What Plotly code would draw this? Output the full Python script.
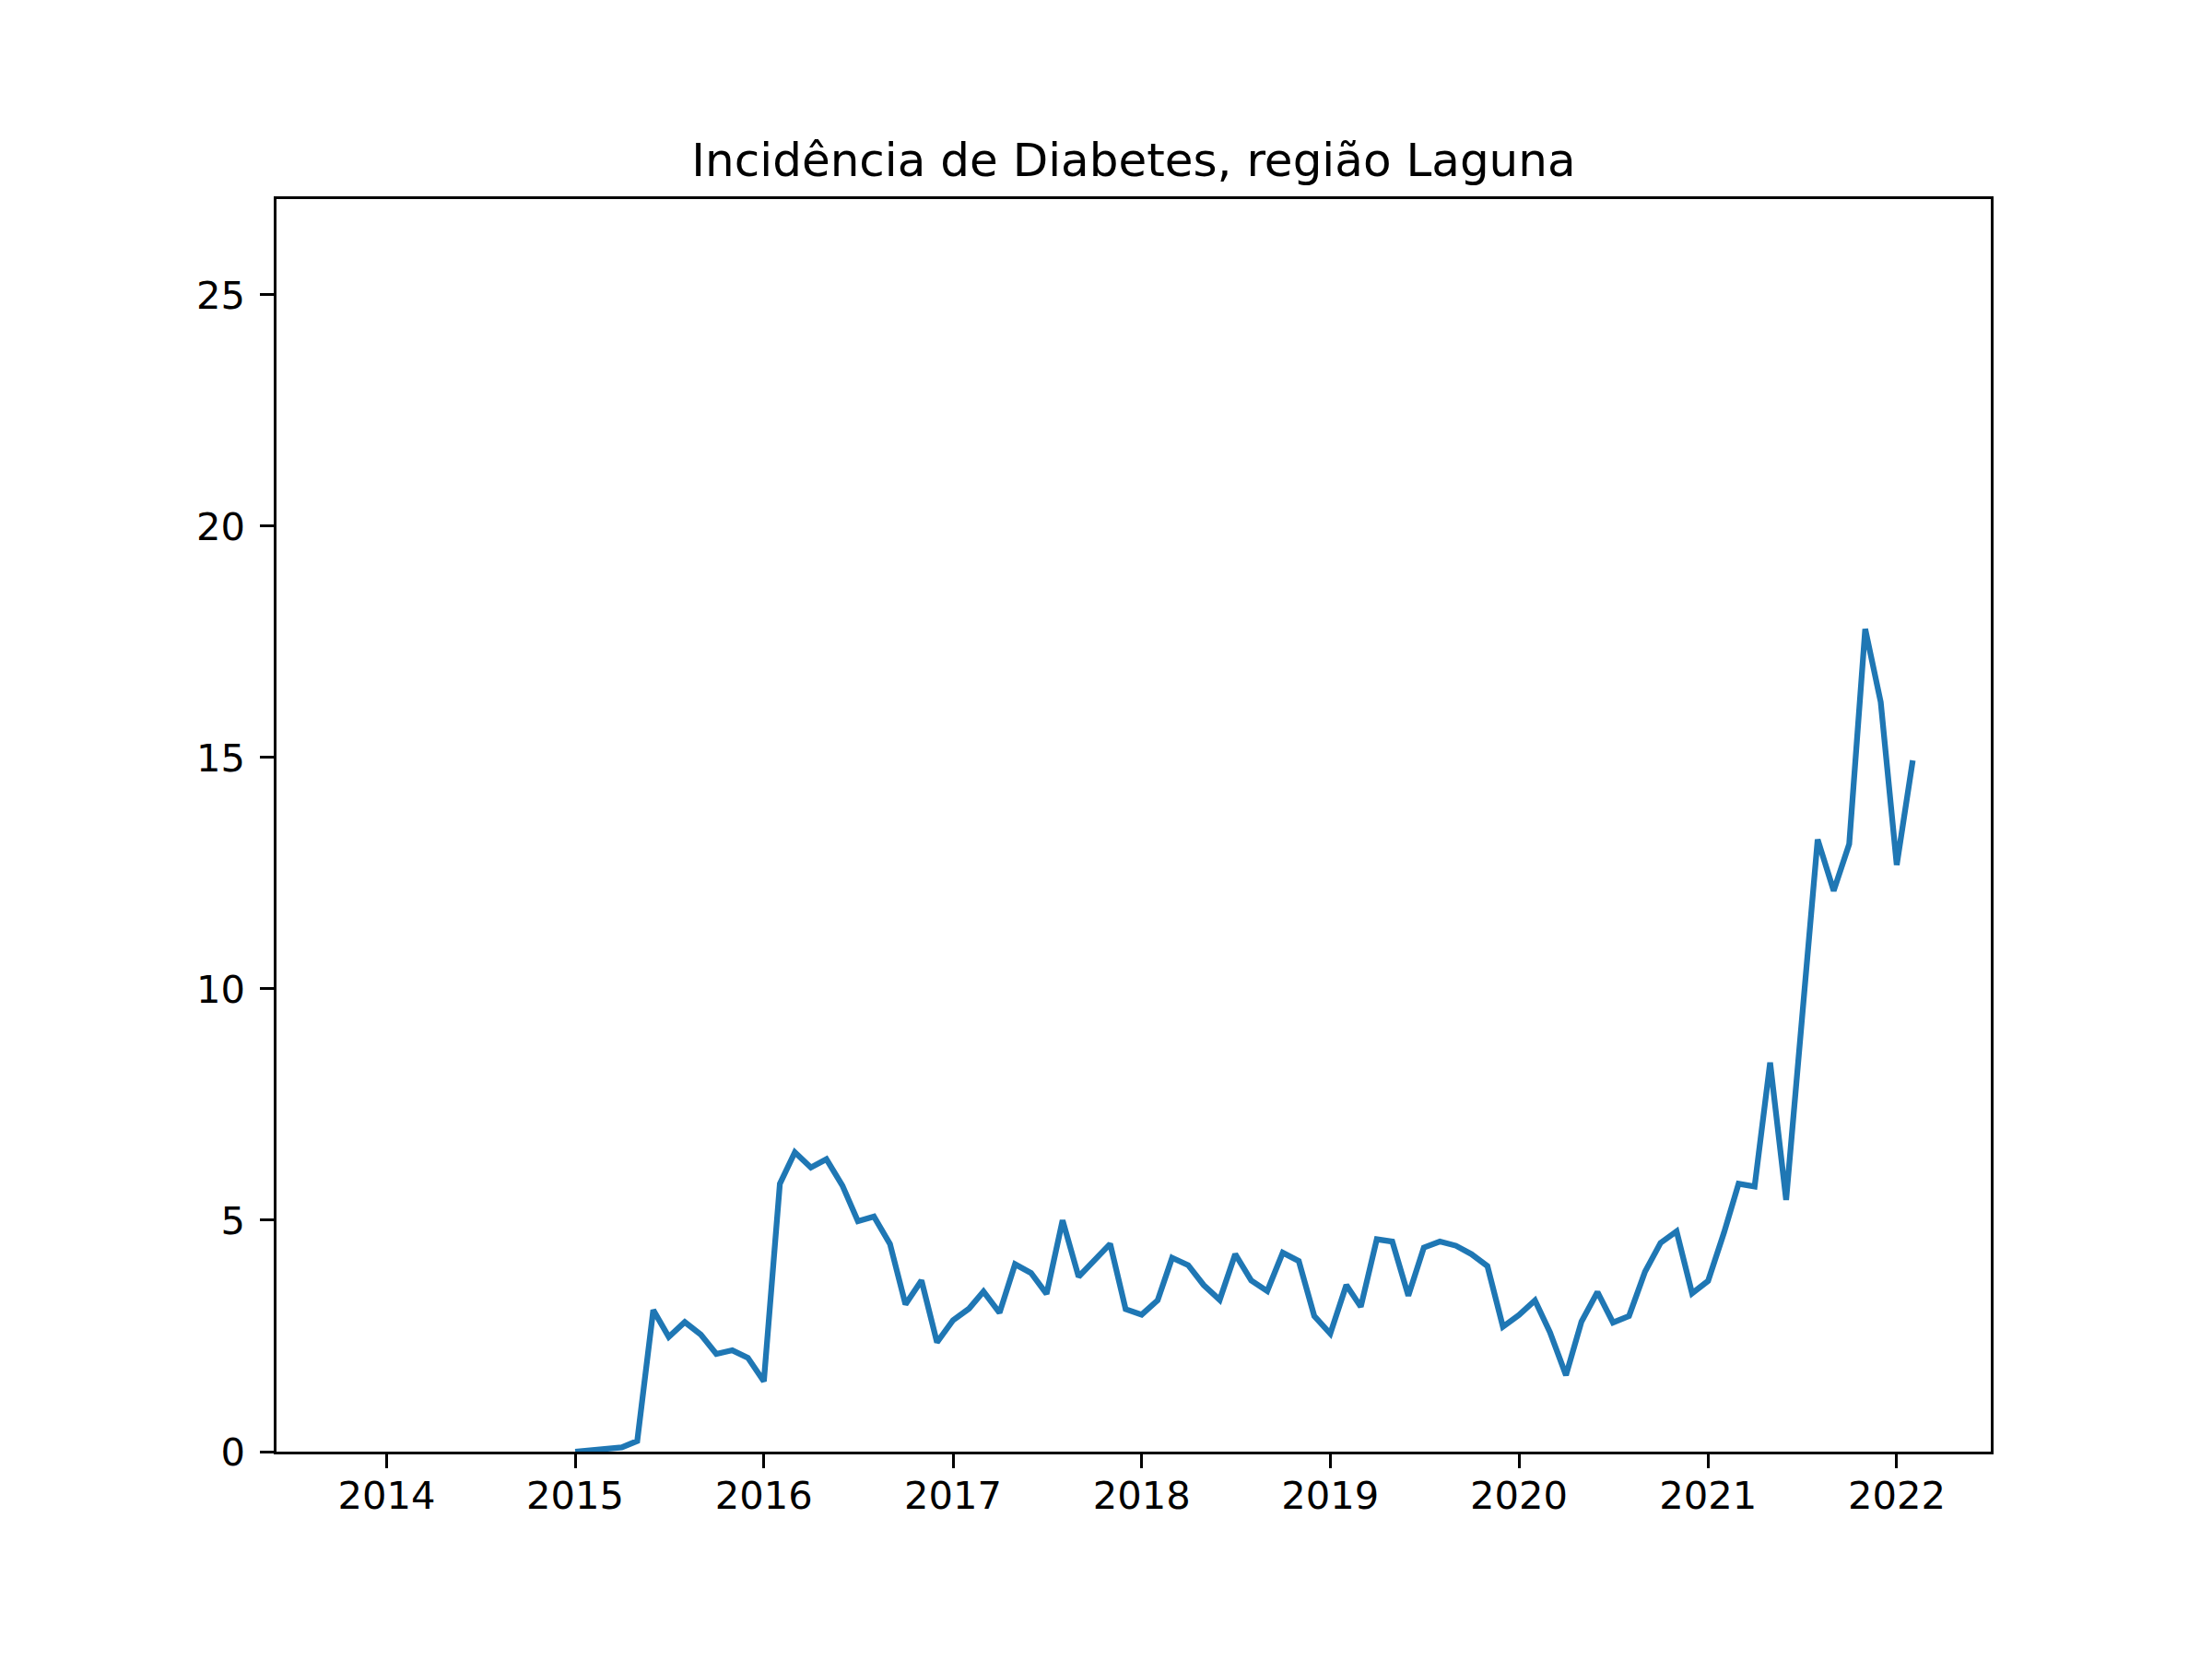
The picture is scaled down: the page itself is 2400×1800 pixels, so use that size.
import plotly.graph_objects as go

# monthly incidence values, Jan 2015 .. Feb 2022
meses = [f"{a}-{m:02d}-01" for a in range(2015, 2023) for m in range(1, 13)][:86]

inc_2015 = [0.0, 0.03, 0.06, 0.09, 0.23, 3.06, 2.48, 2.80, 2.53, 2.11, 2.19, 2.03]
inc_2016 = [1.52, 5.79, 6.47, 6.14, 6.32, 5.75, 4.98, 5.08, 4.49, 3.18, 3.70, 2.36]
inc_2017 = [2.84, 3.09, 3.46, 3.00, 4.05, 3.86, 3.41, 5.00, 3.78, 4.11, 4.49, 3.08]
inc_2018 = [2.96, 3.27, 4.19, 4.03, 3.60, 3.28, 4.27, 3.70, 3.47, 4.30, 4.12, 2.93]
inc_2019 = [2.55, 3.60, 3.13, 4.59, 4.54, 3.37, 4.41, 4.54, 4.45, 4.27, 4.01, 2.70]
inc_2020 = [2.95, 3.27, 2.58, 1.65, 2.81, 3.45, 2.79, 2.93, 3.89, 4.51, 4.76, 3.42]
inc_2021 = [3.69, 4.74, 5.79, 5.73, 8.41, 5.44, 9.40, 13.23, 12.12, 13.13, 17.78, 16.20]
inc_2022 = [12.68, 14.94]

incidencia = inc_2015 + inc_2016 + inc_2017 + inc_2018 + inc_2019 + inc_2020 + inc_2021 + inc_2022

fonte = "DejaVu Sans"
px_pt = 300 / 72  # figure was saved at 300 dpi

# the page body adds an 8px margin, so the paper is shrunk by that much
W, H = 2392, 1792
off = 8

fig = go.Figure()
fig.add_trace(go.Scatter(x=meses, y=incidencia, mode="lines",
                         line=dict(color="#1f77b4", width=1.5 * px_pt),
                         showlegend=False))

eixo = dict(showline=True, linecolor="black", linewidth=0.8 * px_pt, mirror=True,
            ticks="outside", ticklen=3.5 * px_pt, tickwidth=0.8 * px_pt,
            tickcolor="black", showgrid=False, zeroline=False,
            tickfont=dict(family=fonte, size=10 * px_pt, color="black"))

fig.update_xaxes(type="date", range=["2013-06-02", "2022-07-02"],
                 tick0="2014-01-01", dtick="M12", tickformat="%Y",
                 ticklabelstandoff=-6, **eixo)
fig.update_yaxes(range=[0, 27.07], tick0=0, dtick=5,
                 ticklabelstandoff=8, **eixo)

fig.update_layout(
    width=W, height=H,
    margin=dict(l=300 - off, r=W + off - 2160, t=216 - off, b=H + off - 1575,
                autoexpand=False),
    paper_bgcolor="white", plot_bgcolor="white",
    title=dict(text="Incidência de Diabetes, região Laguna",
               font=dict(family=fonte, size=12 * px_pt, color="black"),
               xref="paper", x=0.5, xanchor="center",
               yref="container", y=1 - (191 - off) / H, yanchor="bottom"),
)

fig.write_html("out.html")
